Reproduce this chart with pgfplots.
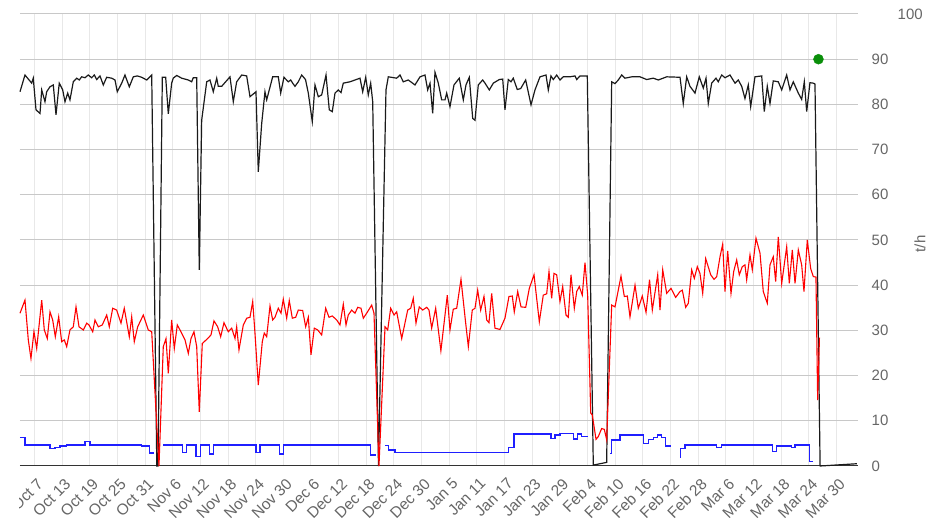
\documentclass[border=0pt]{standalone}
\usepackage{pgfplots}
\pgfplotsset{compat=1.18}
\usepackage{fontspec}
\setmainfont{Liberation Sans}
\definecolor{lbl}{HTML}{666666}
\definecolor{hgrid}{HTML}{C8C8C8}
\definecolor{vgrid}{HTML}{E8E8E8}
\definecolor{axisc}{HTML}{333333}
\definecolor{sblack}{HTML}{1A1A1A}
\definecolor{sred}{HTML}{FF0000}
\definecolor{sblue}{HTML}{1F1FFF}
\definecolor{dotgreen}{HTML}{0A8F0A}
\begin{document}
\begin{tikzpicture}
\begin{axis}[
  at={(20pt,66pt)}, anchor=south west,
  width=838pt, height=452pt, scale only axis,
  xmin=-3.10, xmax=178.68, ymin=0, ymax=100,
  axis x line*=bottom, axis y line*=right,
  x axis line style={draw=axisc, line width=1pt},
  y axis line style={draw=none},
  xtick={0,6,...,174},
  xticklabels={Oct 7,Oct 13,Oct 19,Oct 25,Oct 31,Nov 6,Nov 12,Nov 18,Nov 24,Nov 30,Dec 6,Dec 12,Dec 18,Dec 24,Dec 30,Jan 5,Jan 11,Jan 17,Jan 23,Jan 29,Feb 4,Feb 10,Feb 16,Feb 22,Feb 28,Mar 6,Mar 12,Mar 18,Mar 24,Mar 30},
  ytick={0,10,...,100},
  yticklabels={0,10,20,30,40,50,60,70,80,90,\hspace*{26pt}100},
  major tick length=0pt,
  grid=major,
  x grid style={draw=vgrid, line width=0.8pt},
  y grid style={draw=hgrid, line width=1pt},
  xticklabel style={font=\fontsize{15.5}{18}\selectfont, text=lbl, inner sep=0pt, xshift=6pt, yshift=-15pt, rotate=45, anchor=east},
  yticklabel style={font=\fontsize{15}{18}\selectfont, text=lbl, anchor=west, inner sep=0pt, xshift=13.5pt},
  clip=false,
]
% black series
\addplot[sblack, line width=1.2pt] coordinates {
(-3.10,82.8)(-2.02,86.5)(-0.56,84.7)(-0.22,85.8)(0.37,78.8)(1.24,78.0)(1.61,83.2)(2.32,80.6)(2.69,82.8)(3.41,83.9)(4.12,84.3)(4.71,77.7)(5.42,84.7)(6.16,83.2)(6.66,80.6)(7.25,82.5)(7.74,81.0)(8.46,85.0)(9.20,85.8)(9.76,85.4)(10.28,86.1)(11.00,85.9)(11.71,86.5)(12.45,85.9)(13.02,86.5)(13.54,85.5)(14.25,86.3)(14.97,84.3)(15.70,86.0)(16.79,85.8)(17.51,85.4)(18.00,82.8)(18.96,84.7)(19.67,86.5)(20.61,83.9)(21.48,86.1)(22.34,86.3)(23.30,86.0)(24.38,85.4)(25.47,86.5)(26.58,0)(26.84,0)(27.77,86.0)(28.50,86.0)(29.07,77.9)(29.80,84.7)(30.15,85.8)(30.89,86.4)(31.97,85.8)(33.41,85.4)(34.14,85.0)(34.49,85.9)(35.23,85.9)(35.79,43.4)(36.31,76.5)(37.40,85.0)(38.11,85.4)(38.83,82.8)(39.57,85.8)(39.91,84.0)(40.65,84.0)(42.45,86.1)(43.17,80.6)(43.90,85.0)(44.99,86.5)(46.07,86.3)(46.79,81.7)(48.09,82.8)(48.59,65.1)(49.33,75.8)(50.04,82.8)(50.41,81.0)(51.71,86.1)(52.93,86.1)(53.45,82.5)(54.16,86.0)(55.10,85.0)(55.62,85.4)(56.05,84.7)(56.55,84.0)(57.27,85.0)(58.00,86.5)(58.83,85.5)(59.44,82.5)(60.30,76.2)(60.89,84.3)(61.61,81.7)(62.34,82.1)(63.28,86.5)(63.99,78.8)(64.64,78.4)(65.23,82.5)(65.94,83.2)(66.53,82.6)(67.03,84.7)(68.48,85.0)(69.57,85.4)(70.65,85.8)(71.24,82.8)(71.89,86.0)(72.45,82.1)(72.97,84.7)(73.41,80.6)(74.66,0)(76.29,83.2)(76.79,86.1)(78.61,85.8)(79.33,86.5)(80.04,85.0)(81.13,85.4)(82.58,84.3)(83.67,86.1)(84.75,86.5)(85.34,83.2)(85.84,84.7)(86.42,78.0)(86.92,87.1)(87.64,84.7)(88.37,81.0)(89.09,81.0)(89.46,82.5)(90.17,79.5)(91.04,84.3)(92.19,85.8)(93.06,81.0)(93.64,84.3)(94.36,86.0)(95.10,76.9)(95.60,76.5)(96.31,84.3)(97.27,85.4)(97.77,84.7)(98.70,83.2)(99.57,84.7)(100.87,85.5)(101.61,85.6)(102.10,78.8)(102.82,85.5)(103.41,85.0)(103.90,85.8)(104.77,83.3)(105.51,83.5)(106.59,85.4)(107.75,79.9)(108.61,83.2)(109.70,86.1)(111.00,86.5)(111.50,83.2)(112.08,86.3)(112.58,85.5)(113.32,86.5)(114.03,85.4)(114.75,86.1)(116.20,86.1)(117.29,86.3)(117.66,85.5)(118.37,86.3)(119.96,86.3)(121.26,0.2)(124.16,0.8)(125.25,85.0)(125.97,84.6)(126.68,85.4)(127.42,86.5)(128.14,85.8)(129.59,86.1)(131.40,86.1)(132.84,85.5)(134.27,85.8)(135.36,85.4)(137.18,86.1)(140.07,86.0)(140.78,80.2)(141.52,86.1)(142.23,84.0)(143.32,82.5)(144.25,86.1)(145.12,83.6)(145.71,85.8)(146.20,80.2)(146.94,84.7)(147.87,85.8)(148.37,85.0)(149.11,86.5)(149.83,85.9)(150.91,86.5)(152.00,84.7)(152.71,85.4)(153.45,84.0)(154.16,81.3)(154.88,84.3)(155.40,79.5)(156.33,86.1)(157.79,86.3)(158.35,78.4)(159.00,84.0)(159.59,80.2)(160.30,85.2)(161.39,85.0)(162.13,83.2)(163.21,86.5)(163.93,83.2)(164.64,85.0)(165.73,82.5)(166.46,81.1)(167.03,85.0)(167.55,78.4)(168.26,84.8)(168.98,84.7)(169.35,84.5)(170.46,0)(178.42,0.5)
};
% red series
\addplot[sred, line width=1.1pt] coordinates {
(-3.10,33.8)(-2.02,36.7)(-1.30,27.9)(-0.72,23.8)(-0.07,29.7)(0.52,26.0)(1.61,36.7)(2.17,30.1)(2.82,28.2)(3.41,34.1)(3.99,32.3)(4.56,28.6)(5.29,33.0)(5.94,27.5)(6.51,27.9)(7.03,26.4)(7.74,30.1)(8.46,30.8)(9.05,35.2)(9.70,30.8)(10.63,30.1)(11.37,31.6)(11.87,31.2)(12.67,29.7)(13.17,32.3)(13.88,30.8)(14.75,31.2)(15.71,33.4)(16.27,30.8)(17.01,34.9)(17.87,34.5)(18.81,31.6)(19.52,34.9)(20.61,28.6)(21.13,33.0)(21.69,27.5)(22.43,30.8)(23.64,33.4)(24.73,30.1)(25.47,29.7)(27.05,0)(27.98,26.4)(28.57,28.2)(29.07,20.5)(29.80,32.3)(30.37,26.0)(31.02,31.2)(31.82,29.7)(32.69,27.9)(33.41,24.9)(33.99,28.2)(34.64,29.7)(35.23,26.4)(35.79,12.0)(36.44,27.1)(37.61,28.2)(38.33,29.0)(38.98,32.1)(39.78,30.8)(40.43,28.6)(41.15,31.7)(42.08,29.7)(42.82,30.5)(43.54,28.2)(43.90,30.8)(44.40,25.7)(45.34,31.2)(46.07,32.7)(46.79,32.9)(47.38,36.4)(47.87,29.4)(48.59,17.9)(49.46,27.5)(49.89,29.4)(50.41,28.6)(51.13,35.4)(51.71,32.3)(52.21,32.9)(52.93,34.9)(53.52,33.8)(54.01,36.9)(54.75,32.7)(55.31,36.6)(55.97,32.7)(56.70,32.9)(57.27,34.5)(58.22,34.4)(58.87,30.8)(59.44,32.9)(60.02,24.6)(60.74,30.5)(61.47,30.1)(62.34,29.0)(63.21,34.9)(63.93,32.9)(64.64,33.2)(65.60,32.3)(66.31,31.2)(67.03,35.8)(67.62,31.2)(68.11,33.4)(68.85,34.5)(69.57,33.8)(70.15,35.1)(70.87,34.9)(71.37,32.7)(72.10,33.8)(73.19,35.6)(73.69,33.8)(74.77,0)(76.08,30.8)(76.66,30.1)(77.31,34.9)(78.03,33.4)(78.61,34.1)(79.70,28.2)(81.00,34.5)(81.65,34.9)(82.21,37.1)(82.80,31.6)(83.51,35.2)(84.25,34.5)(85.12,35.1)(85.62,34.5)(86.20,30.5)(87.07,34.9)(88.20,25.5)(89.59,37.8)(90.17,30.1)(90.89,34.7)(91.63,34.9)(92.56,41.3)(93.43,33.0)(94.15,26.4)(95.01,34.5)(95.60,34.9)(96.18,38.9)(96.83,34.5)(97.55,37.5)(98.14,32.3)(98.63,31.7)(99.22,38.2)(99.93,30.5)(101.02,30.2)(102.10,32.7)(102.97,37.5)(103.69,37.6)(104.12,34.1)(104.86,38.6)(105.58,35.2)(106.60,35.1)(107.38,39.3)(108.40,42.3)(109.55,31.9)(110.41,37.8)(111.15,38.1)(111.65,43.0)(112.23,37.1)(112.73,42.6)(113.32,42.3)(114.03,36.4)(114.62,39.7)(115.34,33.4)(115.84,32.9)(116.42,42.3)(117.14,34.9)(117.66,38.6)(118.22,39.7)(118.87,37.8)(119.46,45.0)(120.04,37.8)(120.70,11.7)(121.04,11.3)(121.85,5.9)(122.34,6.5)(123.08,8.3)(123.65,8.1)(124.16,5.8)(125.25,35.6)(125.97,35.2)(127.27,42.0)(127.99,37.5)(128.64,37.6)(129.22,33.0)(130.31,40.0)(131.02,34.9)(131.89,37.6)(132.70,34.0)(133.46,41.2)(134.06,34.5)(135.23,42.3)(135.73,34.5)(136.32,43.4)(137.18,38.2)(138.12,39.3)(139.13,37.3)(140.07,38.6)(140.57,38.9)(141.30,35.1)(141.87,36.0)(142.60,43.4)(143.17,41.5)(143.82,44.1)(144.40,42.6)(144.99,38.2)(145.64,45.9)(146.73,42.3)(147.44,41.3)(148.03,41.9)(148.75,46.3)(149.33,49.1)(149.83,38.6)(150.41,47.6)(151.13,38.2)(151.71,43.0)(152.36,45.6)(152.93,42.3)(153.58,44.1)(154.16,44.5)(154.53,41.2)(155.25,46.7)(155.75,43.4)(156.55,50.4)(157.42,47.1)(158.13,38.6)(159.00,36.0)(159.59,44.5)(160.30,46.3)(160.82,40.8)(161.39,50.7)(162.13,40.4)(163.21,48.5)(163.78,40.4)(164.43,47.8)(165.02,40.4)(165.73,47.8)(166.46,44.5)(166.96,38.6)(167.68,50.0)(168.41,43.7)(168.98,41.9)(169.56,41.8)(169.93,14.6)(170.32,28.4)
};
% blue series (steps, with gaps)
\addplot[sblue, line width=1.5pt, const plot] coordinates {
(-3.10,6.3)(-2.02,4.6)(3.41,3.9)(4.49,4.1)(5.57,4.4)(7.03,4.6)(11.00,5.4)(12.08,4.6)(23.30,4.4)(24.95,2.9)(25.97,2.9)
};
\addplot[sblue, line width=1.5pt, const plot] coordinates {
(27.98,4.6)(32.19,3.0)(33.06,4.6)(35.08,2.1)(36.10,4.6)(37.96,2.6)(38.83,4.6)(48.09,3.0)(48.96,4.6)(53.15,2.6)(54.01,4.6)(72.97,2.4)(74.06,2.4)
};
\addplot[sblue, line width=1.5pt, const plot] coordinates {
(76.08,4.5)(76.79,3.5)(78.24,3.0)(102.82,4.1)(104.06,7.1)(112.08,6.1)(112.95,6.9)(114.03,7.2)(116.92,6.0)(117.88,7.1)(118.74,6.5)(120.04,6.5)
};
\addplot[sblue, line width=1.5pt, const plot] coordinates {
(124.89,2.8)(125.25,5.8)(127.05,6.9)(132.11,5.0)(133.19,5.9)(134.28,6.3)(135.14,6.9)(136.10,6.3)(136.96,4.4)(138.05,4.4)
};
\addplot[sblue, line width=1.5pt, const plot] coordinates {
(140.07,1.9)(140.22,3.9)(141.15,4.6)(148.03,4.1)(149.11,4.6)(160.17,3.2)(161.04,4.4)(164.29,4.1)(165.02,4.6)(168.12,1.0)(168.98,1.0)
};
% green point
\addplot[only marks, mark=*, mark size=5pt, mark options={fill=dotgreen, draw=dotgreen}] coordinates {(170.1,90)};
\node[xshift=62pt, yshift=-4pt, rotate=90, font=\fontsize{15}{18}\selectfont, text=lbl] at (rel axis cs:1,0.5) {t/h};
\end{axis}
% the reference chart is cut at the left edge of its plot area
\fill[white] (0,0) rectangle (19.4pt,532pt);
\pgfresetboundingbox
\useasboundingbox (0,0) rectangle (927pt,532pt);
\end{tikzpicture}
\end{document}
